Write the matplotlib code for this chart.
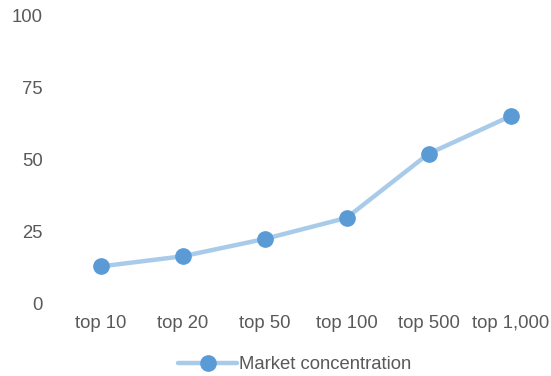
import matplotlib.pyplot as plt

plt.rcParams['font.family'] = ['Liberation Sans', 'DejaVu Sans']

# Daten
categories = ['top 10', 'top 20', 'top 50', 'top 100', 'top 500', 'top 1,000']
concentration = [13, 16.5, 22.5, 29.8, 52, 65]
yticks = [0, 25, 50, 75, 100]

fig = plt.figure(figsize=(5.51, 3.76), dpi=100)
ax = fig.add_axes([0.108, 0.1915, 0.893, 0.7685])

x = range(len(categories))
ax.plot(x, concentration, color='#a9cbea', lw=3.2, marker='o', ms=11,
        mfc='#5b9bd5', mec='#5b9bd5', label='Market concentration',
        solid_capstyle='round')

ax.set_xlim(-0.5, len(categories) - 0.5)
ax.set_ylim(0, 100)
ax.set_xticks(list(x))
ax.set_xticklabels(categories)
ax.set_yticks(yticks)

for s in ax.spines.values():
    s.set_visible(False)
ax.tick_params(length=0, labelsize=13.3, colors='#595959')
ax.tick_params(axis='y', pad=12)
ax.tick_params(axis='x', pad=8)

leg = fig.legend(loc='center', bbox_to_anchor=(0.535, 0.03), frameon=False,
                 fontsize=13.3, handlelength=3.2, handletextpad=0.1)
for t in leg.get_texts():
    t.set_color('#595959')

fig.savefig('out.png', dpi=100)
